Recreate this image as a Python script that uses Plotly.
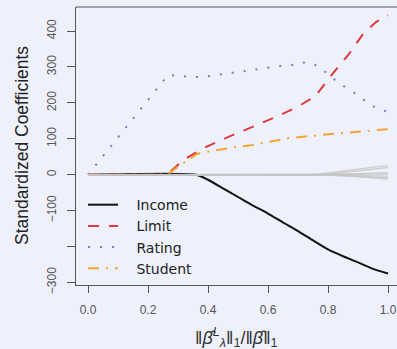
import plotly.graph_objects as go

# ---- data ----
income_x = [0.0, 0.36, 0.40, 0.45, 0.50, 0.55, 0.60, 0.65, 0.70, 0.75, 0.80, 0.85, 0.90, 0.95, 1.0]
income_y = [0, 0, -14, -38, -62, -86, -108, -133, -157, -183, -208, -227, -244, -262, -275]

limit_x = [0.0, 0.262, 0.32, 0.385, 0.47, 0.55, 0.63, 0.70, 0.757, 0.817, 0.867, 0.917, 0.96, 1.0]
limit_y = [0, 0, 42, 74, 106, 134, 162, 190, 218, 283, 333, 392, 425, 444]

rating_x = [0.0, 0.267, 0.307, 0.349, 0.39, 0.473, 0.55, 0.617, 0.69, 0.73, 0.757, 0.79, 0.823, 0.857, 0.90, 0.93, 0.96, 1.0]
rating_y = [0, 278, 275, 272, 273, 283, 292, 300, 307, 314, 306, 287, 264, 244, 222, 201, 186, 175]

student_x = [0.0, 0.262, 0.30, 0.363, 0.385, 0.435, 0.484, 0.55, 0.67, 0.78, 0.87, 0.94, 1.0]
student_y = [0, 0, 22, 58, 62, 69, 76, 83, 102, 111, 117, 122, 127]

# other predictors (grey) : x where they leave zero, value at 1.0
other_start = [0.75, 0.78, 0.80, 0.85, 0.80, 0.76, 0.82]
other_end = [26, 20, 6, 2, -4, -8, -12]

series_names = ["Income", "Limit", "Rating", "Student"]

x_ticks = [0.0, 0.2, 0.4, 0.6, 0.8, 1.0]
x_tick_text = ["0.0", "0.2", "0.4", "0.6", "0.8", "1.0"]
y_ticks = [-300, -200, -100, 0, 100, 200, 300, 400]
y_tick_text = ["\u2212300", "", "\u2212100", "0", "100", "200", "300", "400"]

bg = "#eef1fb"
font_family = "Liberation Sans, Arial, sans-serif"
pad = "\u00a0\u00a0\u00a0"

fig = go.Figure()

fig.add_trace(go.Scatter(x=income_x, y=income_y, mode="lines", name=pad + series_names[0],
                         line=dict(color="#111111", width=2, shape="spline", smoothing=0.6)))
fig.add_trace(go.Scatter(x=limit_x, y=limit_y, mode="lines", name=pad + series_names[1],
                         line=dict(color="#e0383c", width=2, dash="11px,10px")))
fig.add_trace(go.Scatter(x=rating_x, y=rating_y, mode="lines", name=pad + series_names[2],
                         line=dict(color="#6f80c0", width=2, dash="2px,10px")))
fig.add_trace(go.Scatter(x=student_x, y=student_y, mode="lines", name=pad + series_names[3],
                         line=dict(color="#f5a531", width=2, dash="11px,7px,2px,7px")))

for s, e in zip(other_start, other_end):
    fig.add_trace(go.Scatter(x=[0.0, s, 1.0], y=[0, 0, e], mode="lines", showlegend=False,
                             hoverinfo="skip", opacity=0.75,
                             line=dict(color="#c4c4c4", width=1.4)))

fig.update_layout(
    width=397, height=349,
    margin=dict(l=76, r=0, t=7, b=64),
    paper_bgcolor=bg, plot_bgcolor=bg,
    font=dict(family=font_family, color="#333333"),
    showlegend=True,
    legend=dict(x=0.022, y=0.345, xanchor="left", yanchor="top",
                bgcolor="rgba(0,0,0,0)",
                font=dict(size=14, family="DejaVu Sans, sans-serif", color="#222222"),
                itemwidth=30, tracegroupgap=0),
    xaxis=dict(range=[-0.04, 1.03], tickvals=x_ticks, ticktext=x_tick_text,
               showgrid=False, zeroline=False, showline=True, linecolor="#555555",
               linewidth=1.2, ticks="outside", ticklen=7, tickcolor="#555555",
               tickfont=dict(size=12, color="#555555"), ticklabelstandoff=6),
    yaxis=dict(range=[-307, 467], tickvals=y_ticks, ticktext=y_tick_text,
               showgrid=False, zeroline=False, showline=True, linecolor="#555555",
               linewidth=1.2, ticks="outside", ticklen=8, tickcolor="#555555",
               tickangle=-90, tickfont=dict(size=12, color="#555555"),
               ticklabelstandoff=6),
    shapes=[dict(type="line", xref="paper", yref="paper", x0=0, x1=1, y0=1, y1=1,
                 line=dict(color="#555555", width=1.2))],
    annotations=[
        dict(text="Standardized Coefficients", xref="paper", yref="paper",
             x=0, y=0.5, xshift=-54, xanchor="center", yanchor="middle",
             textangle=-90, showarrow=False,
             font=dict(size=17.5, color="#222222")),
        dict(text="\u2016<i>\u03b2\u0302</i><sup><i>L</i></sup><sub><i>\u03bb</i></sub>\u2016<sub>1</sub>/\u2016<i>\u03b2\u0302</i>\u2016<sub>1</sub>",
             xref="paper", yref="paper", x=0.5, y=0, yshift=-52,
             xanchor="center", yanchor="middle", showarrow=False,
             font=dict(size=18, color="#333333")),
    ],
)

fig.write_html("out.html")
